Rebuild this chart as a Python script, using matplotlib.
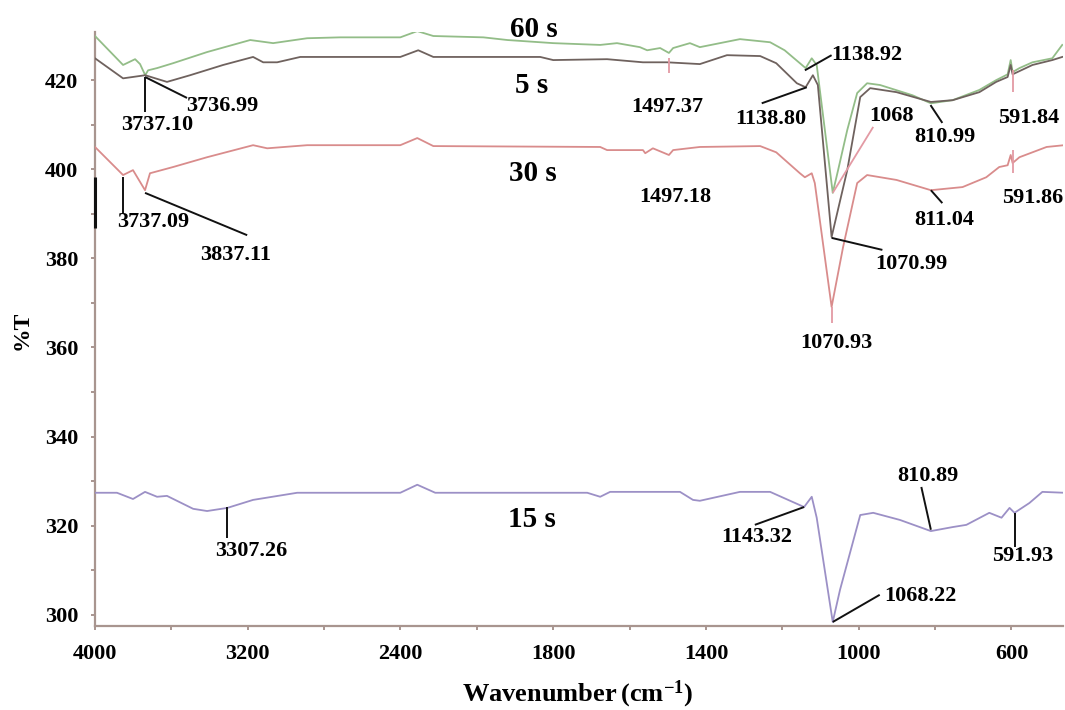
import numpy as np
import matplotlib
matplotlib.use("Agg")
import matplotlib.pyplot as plt

plt.rcParams['font.family'] = ['Liberation Serif', 'DejaVu Serif']
plt.rcParams['font.weight'] = 'bold'
plt.rcParams['mathtext.fontset'] = 'custom'
plt.rcParams['mathtext.bf'] = 'Liberation Serif:bold'
plt.rcParams['mathtext.rm'] = 'Liberation Serif:bold'
plt.rcParams['mathtext.default'] = 'bf'

# ---------------- data ----------------
w60 = [4000, 3853, 3790, 3764, 3737, 3722, 3675, 3591, 3413, 3187, 3067, 2889, 2716, 2401, 2312, 2228,
       1983, 1920, 1800, 1677, 1633, 1573, 1554, 1520, 1497, 1486, 1442, 1416, 1311, 1232, 1194, 1139,
       1123, 1110, 1068, 1054, 1030, 1004, 978, 944, 859, 811, 754, 684, 640, 610, 602, 597, 579, 545, 493, 467]
t60 = [429.9, 423.4, 424.7, 423.6, 421.1, 422.2, 422.7, 423.8, 426.3, 429.0, 428.3, 429.4, 429.6, 429.6, 431.0, 429.9,
       429.6, 429.0, 428.3, 427.9, 428.3, 427.4, 426.7, 427.2, 426.1, 427.2, 428.3, 427.4, 429.2, 428.5, 426.7, 422.7,
       424.9, 423.4, 394.7, 399.8, 408.8, 417.1, 419.3, 418.9, 416.6, 414.8, 415.5, 417.8, 420.0, 421.3, 424.5, 421.8,
       422.7, 424.0, 424.9, 427.9]

w5 = [4000, 3853, 3737, 3623, 3502, 3329, 3172, 3119, 3046, 2925, 2716, 2401, 2307, 2228, 1834, 1800, 1659,
      1565, 1502, 1416, 1345, 1258, 1216, 1162, 1139, 1120, 1107, 1071, 1030, 996, 970, 901, 811, 754, 684,
      640, 610, 602, 597, 545, 493, 467]
t5 = [424.9, 420.4, 421.1, 419.6, 421.1, 423.4, 425.2, 424.0, 424.0, 425.2, 425.2, 425.2, 426.7, 425.2, 425.2,
      424.5, 424.7, 424.0, 424.0, 423.6, 425.6, 425.4, 423.8, 419.3, 418.4, 421.1, 418.9, 384.8, 399.8, 416.2,
      418.2, 417.3, 415.1, 415.5, 417.3, 419.6, 420.7, 423.4, 421.3, 423.4, 424.5, 425.2]

w30 = [4000, 3853, 3801, 3738, 3712, 3591, 3413, 3172, 3098, 2889, 2401, 2312, 2228, 1677, 1659, 1565, 1559,
       1539, 1497, 1486, 1416, 1258, 1216, 1154, 1141, 1123, 1115, 1071, 1041, 1004, 978, 901, 811, 728, 666,
       632, 610, 602, 597, 579, 508, 462]
t30 = [405.0, 398.7, 399.8, 395.3, 399.1, 400.5, 402.7, 405.4, 404.7, 405.4, 405.4, 407.0, 405.2, 405.0, 404.3,
       404.3, 403.6, 404.7, 403.2, 404.3, 405.0, 405.2, 403.8, 399.1, 398.2, 399.1, 396.9, 369.1, 382.5, 396.9,
       398.7, 397.6, 395.3, 396.0, 398.2, 400.5, 400.9, 403.2, 401.4, 402.7, 405.0, 405.4]

w15 = [4000, 3885, 3801, 3738, 3675, 3623, 3486, 3413, 3307, 3172, 2941, 2401, 2312, 2218, 1711, 1677, 1651,
       1468, 1434, 1416, 1311, 1232, 1143, 1123, 1110, 1068, 1049, 996, 962, 892, 811, 754, 718, 658, 626,
       605, 592, 553, 519, 462]
t15 = [327.4, 327.4, 326.0, 327.6, 326.5, 326.7, 323.8, 323.3, 324.0, 325.8, 327.4, 327.4, 329.2, 327.4, 327.4,
       326.5, 327.6, 327.6, 325.8, 325.6, 327.6, 327.6, 324.2, 326.5, 321.8, 298.4, 305.6, 322.4, 322.9, 321.3,
       318.8, 319.7, 320.2, 322.9, 321.8, 324.0, 322.9, 325.1, 327.6, 327.4]

series_names = ['60 s', '5 s', '30 s', '15 s']
series_colors = ['#93bd88', '#6f625e', '#d98c8c', '#9c90c6']
series_label_w = [1850, 1857, 1852, 1855]
series_label_t = [431.4, 418.9, 399.1, 321.3]

# peak labels: text, text position (w, T)
ann_text = ['3737.10', '3736.99', '3737.09', '3837.11', '1497.37', '1497.18', '1138.92', '1138.80',
            '1068', '810.99', '591.84', '591.86', '811.04', '1070.99', '1070.93', '3307.26', '1143.32',
            '810.89', '591.93', '1068.22']
ann_w = [3675, 3334, 3696, 3266, 1502, 1479, 979, 1230, 914, 775, 555, 544, 775, 862, 1058, 3182, 1267,
         820, 571, 838]
ann_t = [409.9, 414.2, 388.1, 380.7, 413.9, 393.8, 425.6, 411.3, 411.9, 407.2, 411.5, 393.5, 388.6, 378.7,
         361.0, 314.4, 317.5, 331.2, 313.2, 304.3]

# leader lines: (w0, T0, w1, T1, colour key)
lead_w0 = [3737, 3738, 3853, 3738, 1497, 1141, 1254, 1068, 812, 597, 597, 811, 1071, 1071, 3307, 1272, 836, 592, 1068, 4000]
lead_t0 = [420.7, 420.7, 398.2, 394.7, 424.9, 422.2, 414.8, 394.7, 414.4, 422.2, 404.3, 395.3, 384.6, 369.1, 324.2, 320.2, 328.7, 322.9, 298.4, 398.2]
lead_w1 = [3737, 3518, 3853, 3203, 1497, 1071, 1136, 962, 781, 597, 597, 781, 938, 1071, 3307, 1143, 811, 592, 945, 4000]
lead_t1 = [412.8, 416.0, 390.2, 385.2, 421.6, 425.6, 418.4, 409.5, 410.4, 417.3, 399.1, 392.4, 381.9, 365.5, 317.3, 324.2, 319.1, 315.2, 304.5, 386.8]
lead_kind = ['k', 'k', 'k', 'k', 'p', 'k', 'k', 'p', 'k', 'p', 'p', 'k', 'k', 'p', 'k', 'k', 'k', 'k', 'k', 'k']

x_major = [4000, 3200, 2400, 1800, 1400, 1000, 600]
x_minor = [3600, 2800, 2000, 1600, 1200, 800]
y_major = [300, 320, 340, 360, 380, 400, 420]
y_minor = [310, 330, 350, 370, 390, 410]

# ---------------- plot ----------------
def fwd(w):
    w = np.asarray(w, dtype=float)
    return np.where(w >= 2000, 2000 + (w - 2000) / 2.0, w)

def inv(u):
    u = np.asarray(u, dtype=float)
    return np.where(u >= 2000, 2000 + (u - 2000) * 2.0, u)

fig = plt.figure(figsize=(10.65, 7.10), dpi=100)
ax = fig.add_axes([95 / 1065, 1 - 626 / 710, (1063 - 95) / 1065, (626 - 32) / 710])
ax.set_xscale('function', functions=(fwd, inv))
ax.set_xlim(4000, 465)
ax.set_ylim(297.5, 430.8)

for w, t, c in zip([w60, w5, w30, w15], [t60, t5, t30, t15], series_colors):
    ax.plot(w, t, color=c, lw=1.3, solid_joinstyle='round', zorder=3)

for name, lw_, lt_ in zip(series_names, series_label_w, series_label_t):
    ax.text(lw_, lt_, name, fontsize=21, fontweight='bold', ha='center', va='center',
            clip_on=False, zorder=5)

for s, w, t in zip(ann_text, ann_w, ann_t):
    ax.text(w, t, s, fontsize=16, fontweight='bold', ha='center', va='center', zorder=5, clip_on=False)

for w0, t0, w1, t1, k in zip(lead_w0, lead_t0, lead_w1, lead_t1, lead_kind):
    col = '#111111' if k == 'k' else '#e39aa4'
    lw = 1.4 if k == 'k' else 1.3
    if w0 == 4000:
        lw = 2.2
    ax.plot([w0, w1], [t0, t1], color=col, lw=lw, zorder=4, clip_on=False, solid_capstyle='butt')

spine_col = '#a8958f'
for s in ['top', 'right']:
    ax.spines[s].set_visible(False)
for s in ['left', 'bottom']:
    ax.spines[s].set_color(spine_col)
    ax.spines[s].set_linewidth(1.6)

ax.set_xticks(x_major)
ax.set_xticklabels([str(v) for v in x_major])
ax.set_xticks(x_minor, minor=True)
ax.set_yticks(y_major)
ax.set_yticks(y_minor, minor=True)
ax.tick_params(axis='both', which='both', direction='out', length=3, width=1.4, color=spine_col)
ax.tick_params(axis='x', which='major', labelsize=16, pad=10)
ax.tick_params(axis='y', which='major', labelsize=16, pad=9)
for lab in ax.get_xticklabels() + ax.get_yticklabels():
    lab.set_fontweight('bold')

fig.text(22 / 1065, 1 - 330 / 710, '%T', rotation=90, fontsize=17, fontweight='bold',
         ha='center', va='center')
fig.text(578 / 1065, 1 - 694 / 710, r'Wavenumber$\,$(cm$^{-1}$)', fontsize=19, fontweight='bold',
         ha='center', va='center')

fig.savefig('out.png', dpi=100)
